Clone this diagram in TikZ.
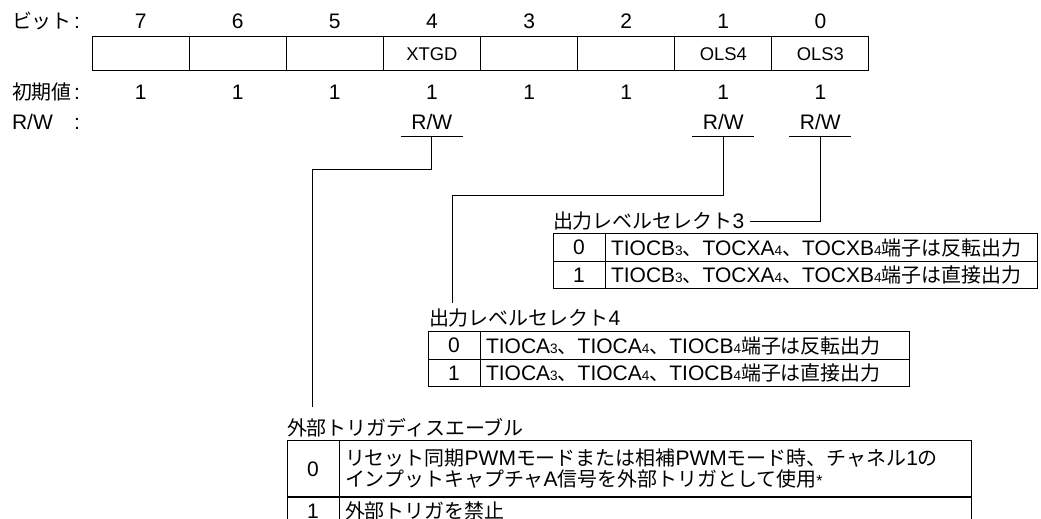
\documentclass[tikz,border=0pt]{standalone}
\usepackage{fontspec}
\setmainfont{Liberation Sans}
\newfontfamily\jp[Scale=0.95]{Noto Sans CJK JP}
\usetikzlibrary{positioning}
\newcommand\subnum[1]{{\fontsize{6.8pt}{7pt}\selectfont #1}}
\tikzset{
  rowlabel/.style={anchor=base west, text width=34pt, align=left},
  regcell/.style={draw, minimum width=48.56pt, minimum height=17pt, font=\fontsize{9.2pt}{10pt}\selectfont},
  tabtitle/.style={anchor=base west},
  numcell/.style={draw, anchor=north west, minimum width=26pt, minimum height=13.75pt},
  desccell/.style={draw, anchor=west, inner xsep=3pt, text width=#1, align=left, minimum height=13.75pt}
}

\begin{document}
\begin{tikzpicture}[x=0.5pt, y=-0.5pt, line width=0.5pt,
  every node/.style={font=\fontsize{10.5pt}{10.5pt}\selectfont, inner sep=0pt, outer sep=0pt}]
  \useasboundingbox (0,0) rectangle (1041,519);
  \clip (0,0) rectangle (1041,519);

  % row labels
  \node[rowlabel] (lbit) at (12,29) {{\jp ビット}\hfill:};
  \node[rowlabel] (linit) at (12,100) {{\jp 初期値}\hfill:};
  \node[rowlabel] (lrw) at (12,130) {R/W\hfill:};

  % bit numbers
  \node[anchor=base] (n7) at (140.6,29) {7};
  \node[anchor=base] (n6) at (237.7,29) {6};
  \node[anchor=base] (n5) at (334.8,29) {5};
  \node[anchor=base] (n4) at (431.9,29) {4};
  \node[anchor=base] (n3) at (529.1,29) {3};
  \node[anchor=base] (n2) at (626.2,29) {2};
  \node[anchor=base] (n1) at (723.3,29) {1};
  \node[anchor=base] (n0) at (820.4,29) {0};

  % register cells
  \node[regcell] (b7) at (140.6,54) {};
  \node[regcell] (b6) at (237.7,54) {};
  \node[regcell] (b5) at (334.8,54) {};
  \node[regcell] (b4) at (431.9,54) {XTGD};
  \node[regcell] (b3) at (529.1,54) {};
  \node[regcell] (b2) at (626.2,54) {};
  \node[regcell] (b1) at (723.3,54) {OLS4};
  \node[regcell] (b0) at (820.4,54) {OLS3};

  % initial values
  \node[anchor=base] (v7) at (140.6,100) {1};
  \node[anchor=base] (v6) at (237.7,100) {1};
  \node[anchor=base] (v5) at (334.8,100) {1};
  \node[anchor=base] (v4) at (431.9,100) {1};
  \node[anchor=base] (v3) at (529.1,100) {1};
  \node[anchor=base] (v2) at (626.2,100) {1};
  \node[anchor=base] (v1) at (723.3,100) {1};
  \node[anchor=base] (v0) at (820.4,100) {1};

  % R/W
  \node[anchor=base] (rw4) at (431.9,130) {R/W};
  \node[anchor=base] (rw1) at (723.3,130) {R/W};
  \node[anchor=base] (rw0) at (820.4,130) {R/W};
  \coordinate (t4) at (431.9,137);
  \coordinate (t1) at (723.3,137);
  \coordinate (t0) at (820.4,137);
  \draw (t4) ++(-31,0) -- ++(62,0);
  \draw (t1) ++(-31,0) -- ++(62,0);
  \draw (t0) ++(-31,0) -- ++(62,0);

  % output level select 3
  \node[tabtitle] (ttl3) at (553,229) {{\jp 出力レベルセレクト}3};
  \node[numcell] (s3a) at (553,234) {0};
  \node[desccell=210pt, right=0pt of s3a] (s3ad) {TIOCB\subnum{3}{\jp 、}TOCXA\subnum{4}{\jp 、}TOCXB\subnum{4}{\jp 端子は反転出力}};
  \node[numcell, below=0pt of s3a] (s3b) {1};
  \node[desccell=210pt, right=0pt of s3b] (s3bd) {TIOCB\subnum{3}{\jp 、}TOCXA\subnum{4}{\jp 、}TOCXB\subnum{4}{\jp 端子は直接出力}};

  % output level select 4
  \node[tabtitle] (ttl4) at (429,326) {{\jp 出力レベルセレクト}4};
  \node[numcell] (s4a) at (428,332) {0};
  \node[desccell=208.5pt, right=0pt of s4a] (s4ad) {TIOCA\subnum{3}{\jp 、}TIOCA\subnum{4}{\jp 、}TIOCB\subnum{4}{\jp 端子は反転出力}};
  \node[numcell, below=0pt of s4a] (s4b) {1};
  \node[desccell=208.5pt, right=0pt of s4b] (s4bd) {TIOCA\subnum{3}{\jp 、}TIOCA\subnum{4}{\jp 、}TIOCB\subnum{4}{\jp 端子は直接出力}};

  % external trigger disable
  \node[tabtitle] (ttl5) at (287,436) {\jp 外部トリガディスエーブル};
  \node[numcell, minimum height=28pt] (x0) at (287,441) {0};
  \node[desccell=310pt, minimum height=28pt, right=0pt of x0] (x0d) {{\jp リセット同期}PWM{\jp モードまたは相補}PWM{\jp モード時、チャネル}1{\jp の}\\{\jp インプットキャプチャ}A{\jp 信号を外部トリガとして使用}{\fontsize{8pt}{8pt}\selectfont *}};
  \node[numcell, minimum height=14pt, below=0pt of x0] (x1) {1};
  \node[desccell=310pt, minimum height=14pt, right=0pt of x1] (x1d) {\jp 外部トリガを禁止};

  % leader lines
  \coordinate (e4) at (312,407);
  \coordinate (e1) at (452,303);
  \draw (t4) -- ++(0,33) -| (e4);
  \draw (t1) -- ++(0,59) -| (e1);
  \draw (t0) |- ([xshift=3pt]ttl3.east);
\end{tikzpicture}
\end{document}
